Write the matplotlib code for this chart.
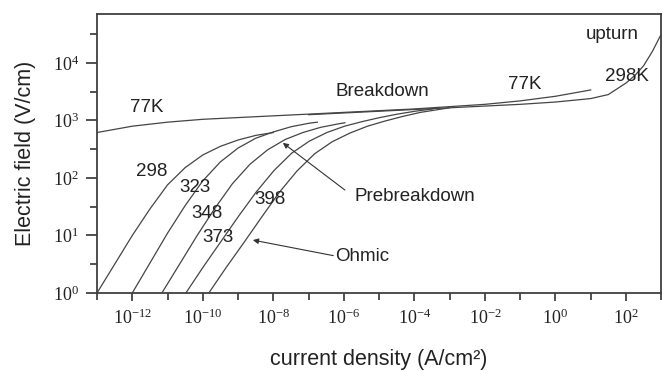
import numpy as np
import matplotlib
matplotlib.use("Agg")
import matplotlib.pyplot as plt
from matplotlib.ticker import NullFormatter

plt.rcParams['font.family'] = 'Liberation Sans'
plt.rcParams['mathtext.fontset'] = 'custom'
plt.rcParams['mathtext.rm'] = 'Liberation Serif'

# values are log10 of current density (A/cm2) and electric field (V/cm)
# 77K curve
x_77 = [-13, -12, -11, -10, -9, -8, -7, -6, -5, -4, -3, -2, -1, 0, 1]
y_77 = [2.79, 2.90, 2.97, 3.02, 3.05, 3.08, 3.11, 3.14, 3.17, 3.20, 3.24, 3.28, 3.34, 3.42, 3.53]

# 298K high-current branch with upturn
x_298hi = [-7, -6, -5, -4, -3, -2, -1, 0, 1, 1.5, 2, 2.25, 2.5, 2.75, 3]
y_298hi = [3.10, 3.13, 3.16, 3.19, 3.22, 3.25, 3.28, 3.32, 3.38, 3.45, 3.65, 3.78, 3.95, 4.2, 4.5]

# ohmic / prebreakdown curves at several temperatures
x_298 = [-13, -12.5, -12, -11.5, -11, -10.5, -10, -9.5, -9, -8.5, -8]
y_298 = [0, 0.5, 1.0, 1.46, 1.88, 2.18, 2.4, 2.55, 2.66, 2.74, 2.79]

x_323 = [-12, -11.5, -11, -10.5, -10, -9.5, -9, -8.5, -8, -7.5, -7, -6.75]
y_323 = [0, 0.52, 1.04, 1.52, 1.95, 2.28, 2.52, 2.69, 2.8, 2.89, 2.95, 2.97]

x_348 = [-11.16, -10.66, -10.16, -9.66, -9.16, -8.66, -8.16, -7.66, -7.16, -6.66, -6.16, -5.97]
y_348 = [0, 0.5, 1.0, 1.47, 1.9, 2.24, 2.49, 2.67, 2.79, 2.88, 2.94, 2.96]

x_373 = [-10.48, -9.98, -9.48, -8.98, -8.48, -7.98, -7.48, -6.98, -6.48, -5.98, -5.48, -4.98, -4.48, -3.98, -3.48]
y_373 = [0, 0.46, 0.9, 1.34, 1.76, 2.13, 2.43, 2.64, 2.79, 2.9, 2.98, 3.05, 3.11, 3.16, 3.20]

x_398 = [-9.83, -9.33, -8.83, -8.33, -7.83, -7.33, -6.83, -6.33, -5.83, -5.33, -4.83, -4.33, -3.83, -3.0]
y_398 = [0, 0.45, 0.88, 1.32, 1.75, 2.12, 2.42, 2.63, 2.78, 2.9, 2.99, 3.07, 3.14, 3.22]

x_ticks = [-12, -10, -8, -6, -4, -2, 0, 2]
y_ticks = [0, 1, 2, 3, 4]

curves = [(x_77, y_77), (x_298hi, y_298hi), (x_298, y_298), (x_323, y_323),
          (x_348, y_348), (x_373, y_373), (x_398, y_398)]

fig = plt.figure(figsize=(6.63, 3.71), dpi=100)
ax = fig.add_axes([0.1463, 0.2102, 0.851, 0.752])

line_col = '#454545'
for xs, ys in curves:
    ax.plot(np.power(10.0, xs), np.power(10.0, ys), color=line_col, lw=0.9)

ax.set_xscale('log')
ax.set_yscale('log')
ax.set_xlim(1e-13, 1e3)
ax.set_ylim(1, 10 ** 4.85)

ax.set_xticks([10.0 ** k for k in x_ticks],
              [r'$\mathregular{10^{%d}}$' % k for k in x_ticks])
ax.set_xticks([10.0 ** k for k in range(-13, 4, 2)], minor=True)
ax.set_yticks([10.0 ** k for k in y_ticks],
              [r'$\mathregular{10^{%d}}$' % k for k in y_ticks])
ax.set_yticks([10.0 ** (k + 0.5) for k in range(0, 5)], minor=True)
ax.xaxis.set_minor_formatter(NullFormatter())
ax.yaxis.set_minor_formatter(NullFormatter())
ax.tick_params(which='both', direction='out', color='#333333', width=1.2,
               labelsize=13, labelfontfamily='Liberation Serif', labelcolor='#222222')
ax.tick_params(axis='x', which='major', length=6, pad=5)
ax.tick_params(axis='x', which='minor', length=5)
ax.tick_params(axis='y', which='major', length=8, pad=5)
ax.tick_params(axis='y', which='minor', length=5)
ax.tick_params(top=False, right=False, which='both')

for sp in ax.spines.values():
    sp.set_color('#404040')
    sp.set_linewidth(1.3)

ax.set_xlabel('current density (A/cm²)', fontsize=15.5, color='#222222', labelpad=15)
ax.set_ylabel('Electric field (V/cm)', fontsize=15.5, color='#222222', labelpad=12)

tk = dict(fontsize=13.5, color='#222222', ha='center', va='center')
labels = [
    ('77K', -11.58, 3.22), ('298', -11.44, 2.12), ('323', -10.22, 1.84),
    ('348', -9.88, 1.39), ('373', -9.57, 0.96), ('398', -8.1, 1.63),
    ('Breakdown', -4.9, 3.5), ('77K', -0.88, 3.62), ('298K', 2.04, 3.76),
    ('upturn', 1.62, 4.49), ('Prebreakdown', -3.99, 1.67), ('Ohmic', -5.49, 0.63),
]
for s, lx, ly in labels:
    ax.text(10 ** lx, 10 ** ly, s, **tk)

arrow = dict(arrowstyle='-|>', lw=0.8, color='#333333', mutation_scale=8,
             shrinkA=0, shrinkB=0)
ax.annotate('', xy=(10 ** -7.73, 10 ** 2.61), xytext=(10 ** -5.97, 10 ** 1.79),
            arrowprops=arrow)
ax.annotate('', xy=(10 ** -8.58, 10 ** 0.92), xytext=(10 ** -6.3, 10 ** 0.65),
            arrowprops=arrow)

fig.savefig('out.png', dpi=100, facecolor='white')
